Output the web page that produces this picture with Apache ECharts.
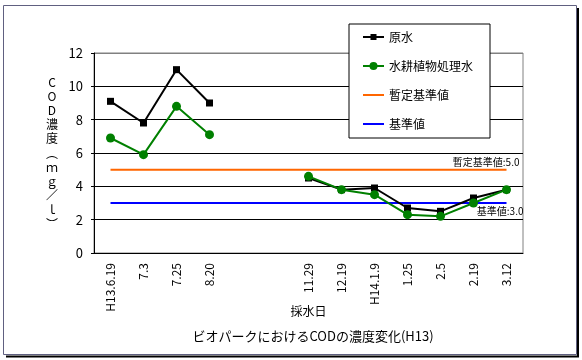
<!DOCTYPE html>
<html>
<head>
<meta charset="utf-8">
<script src="https://cdn.jsdelivr.net/npm/echarts@6/dist/echarts.min.js"></script>
<style>
html,body{margin:0;padding:0;background:#fff;}
#c{width:582px;height:360px;}
</style>
</head>
<body>
<div id="c"></div>
<script>
const categories = ['H13.6.19','7.3','7.25','8.20','','','11.29','12.19','H14.1.9','1.25','2.5','2.19','3.12'];
const rawWater = [9.1,7.8,11.0,9.0,null,null,4.5,3.8,3.9,2.7,2.5,3.3,3.8];
const treatedWater = [6.9,5.9,8.8,7.1,null,null,4.6,3.8,3.5,2.3,2.2,3.0,3.8];
const provisionalStd = 5.0;
const standard = 3.0;
const yTicks = {min:0, max:12, interval:2};

const FONT = '"Noto Sans CJK JP", sans-serif';
const chart = echarts.init(document.getElementById('c'), null, {renderer:'canvas'});

const constData = v => categories.map(() => v);
const lineIcon = 'path://M0,0 L0,0 M0,6 L21,6 L21,8 L0,8 Z M21,14 L21,14';
const squareIcon = 'path://M0,0 L0,0 M0,6 L21,6 L21,8 L0,8 Z M7.5,4 L13.5,4 L13.5,10 L7.5,10 Z M21,14 L21,14';
const circleIcon = 'path://M0,0 L0,0 M0,6 L21,6 L21,8 L0,8 Z M6.5,7 A4,4 0 1 1 14.5,7 A4,4 0 1 1 6.5,7 Z M21,14 L21,14';

const splitColors = [];
for (let v = yTicks.min; v <= yTicks.max; v += yTicks.interval) splitColors.push(v === yTicks.max ? '#808080' : '#000');

chart.setOption({
  animation: false,
  textStyle: {fontFamily: FONT},
  grid: {left: 94, top: 53, width: 429, height: 200, show: true, borderColor: '#808080', borderWidth: 1, backgroundColor: 'transparent'},
  legend: {
    orient: 'vertical', left: 349, top: 24,
    data: [
      {name: '原水', icon: squareIcon},
      {name: '水耕植物処理水', icon: circleIcon},
      {name: '暫定基準値', icon: lineIcon},
      {name: '基準値', icon: lineIcon}
    ],
    backgroundColor: '#fff', borderColor: '#000', borderWidth: 1,
    padding: [6, 17, 7, 14],
    itemGap: 15, itemWidth: 21, itemHeight: 14,
    textStyle: {fontSize: 12, color: '#000', fontFamily: FONT}
  },
  xAxis: {
    type: 'category', data: categories, boundaryGap: true,
    axisLine: {lineStyle: {color: '#000', width: 1}},
    axisTick: {show: false},
    axisLabel: {rotate: 90, interval: 0, margin: 10, fontSize: 12, color: '#000', fontFamily: FONT},
    name: '採水日', nameLocation: 'middle', nameGap: 52, nameMoveOverlap: false,
    nameTextStyle: {fontSize: 12, color: '#000', fontFamily: FONT}
  },
  yAxis: {
    type: 'value', min: yTicks.min, max: yTicks.max, interval: yTicks.interval,
    axisLine: {show: true, lineStyle: {color: '#000', width: 1}},
    axisTick: {show: true, inside: false, length: 3, lineStyle: {color: '#000'}},
    axisLabel: {margin: 11, fontSize: 13, color: '#000', fontFamily: FONT},
    splitLine: {show: true, lineStyle: {color: splitColors, width: 1}},
    name: 'C\nO\nD\n濃\n度\n︵\nｍ\nｇ\n／\nｌ\n︶',
    nameLocation: 'middle', nameRotate: 0, nameGap: 42, nameMoveOverlap: false,
    nameTextStyle: {fontSize: 12, lineHeight: 14.2, color: '#000', fontFamily: FONT, align: 'center'}
  },
  series: [
    {name: '暫定基準値', type: 'line', data: constData(provisionalStd),
      symbol: 'none', lineStyle: {color: '#FF6600', width: 2}, itemStyle: {color: '#FF6600'}, z: 2,
      endLabel: {show: true, formatter: '暫定基準値:5.0', distance: 0, align: 'right', verticalAlign: 'middle',
        offset: [13, -7.5], color: '#000', fontSize: 10, fontFamily: FONT}},
    {name: '基準値', type: 'line', data: constData(standard),
      symbol: 'none', lineStyle: {color: '#0000FF', width: 2}, itemStyle: {color: '#0000FF'}, z: 2,
      endLabel: {show: true, formatter: '基準値:3.0', distance: 0, align: 'right', verticalAlign: 'middle',
        offset: [17, 8.5], color: '#000', fontSize: 10, fontFamily: FONT}},
    {name: '原水', type: 'line', data: rawWater, connectNulls: false,
      symbol: 'rect', symbolSize: 7, showAllSymbol: true,
      lineStyle: {color: '#000', width: 2}, itemStyle: {color: '#000'}, z: 3},
    {name: '水耕植物処理水', type: 'line', data: treatedWater, connectNulls: false,
      symbol: 'circle', symbolSize: 9, showAllSymbol: true,
      lineStyle: {color: '#008000', width: 2}, itemStyle: {color: '#008000'}, z: 4}
  ],
  graphic: [
    {type: 'rect', shape: {x: 3.5, y: 5.5, width: 573, height: 349}, style: {fill: null, stroke: '#606080', lineWidth: 1}, z: -10, silent: true},
    {type: 'line', shape: {x1: 578, y1: 8, x2: 578, y2: 357}, style: {stroke: '#000', lineWidth: 2}, silent: true},
    {type: 'line', shape: {x1: 6, y1: 356.5, x2: 579, y2: 356.5}, style: {stroke: '#000', lineWidth: 2}, silent: true},
    {type: 'text', x: 313, y: 336, style: {text: 'ビオパークにおけるCODの濃度変化(H13)', fontSize: 13, fill: '#000', fontFamily: FONT, align: 'center', verticalAlign: 'middle'}, silent: true}
  ]
});
</script>
</body>
</html>
